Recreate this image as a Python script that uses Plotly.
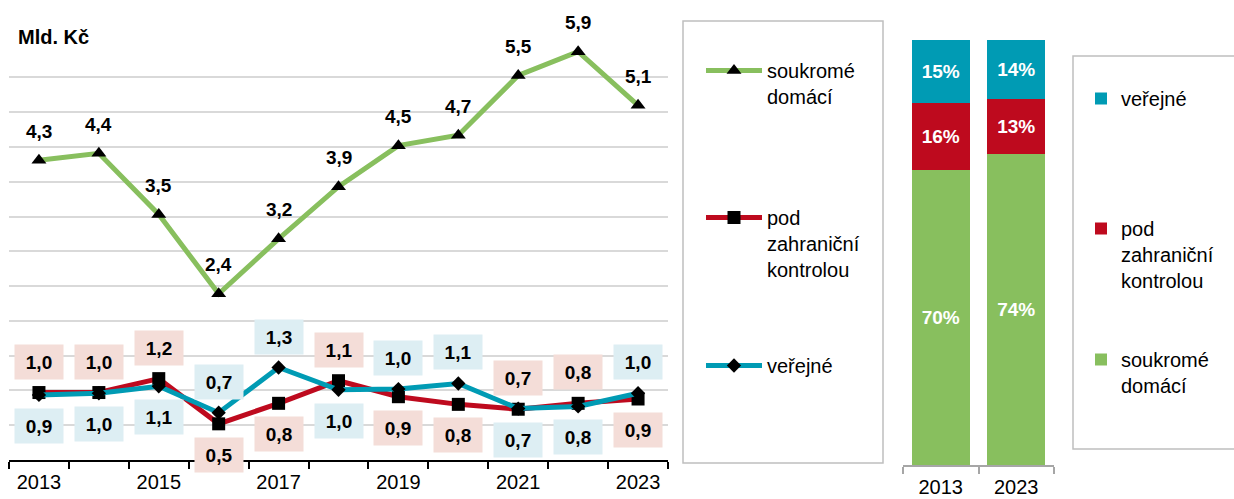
import plotly.graph_objects as go

# ---------------- data ----------------
years = [str(y) for y in range(2013, 2024)]
soukrome = [4.31, 4.41, 3.53, 2.39, 3.18, 3.93, 4.52, 4.67, 5.53, 5.87, 5.10]
zahranicni = [0.97, 0.97, 1.17, 0.52, 0.815, 1.14, 0.91, 0.80, 0.73, 0.815, 0.877]
verejne = [0.935, 0.96, 1.06, 0.68, 1.33, 1.01, 1.02, 1.10, 0.74, 0.77, 0.96]

share_years = ["2013", "2023"]
share_soukrome = [70, 74]
share_zahranicni = [16, 13]
share_verejne = [15, 14]

# label placement for the foreign-controlled series (True = above the point)
zahr_above = [True, True, True, False, False, True, False, False, True, True, False]

GREEN = "#88BF5E"
RED = "#BE0A1E"
TEAL = "#009BB4"
RED_BG = "#F4DDD8"
TEAL_BG = "#DDEEF3"
FONT = "Arial, Liberation Sans, sans-serif"
W, H = 1234, 499


def fmt(v):
    return f"{v:.1f}".replace(".", ",")


def px_x(p):
    return p / W


def px_y(p):
    return 1 - p / H


fig = go.Figure()

fig.add_trace(go.Scatter(
    x=years, y=soukrome, mode="lines+markers", name="soukromé<br>domácí",
    line=dict(color=GREEN, width=5),
    marker=dict(symbol="triangle-up", size=13, color="black"),
    legend="legend", hoverinfo="skip"))
fig.add_trace(go.Scatter(
    x=years, y=zahranicni, mode="lines+markers", name="pod<br>zahraniční<br>kontrolou",
    line=dict(color=RED, width=5),
    marker=dict(symbol="square", size=13, color="black"),
    legend="legend2", hoverinfo="skip"))
fig.add_trace(go.Scatter(
    x=years, y=verejne, mode="lines+markers", name="veřejné",
    line=dict(color=TEAL, width=5),
    marker=dict(symbol="diamond", size=11, color="black"),
    legend="legend3", hoverinfo="skip"))

bar_font = dict(color="white", size=19, family=FONT, weight="bold")
for vals, col, name, leg in [
    (share_soukrome, GREEN, "soukromé<br>domácí", "legend6"),
    (share_zahranicni, RED, "pod<br>zahraniční<br>kontrolou", "legend5"),
    (share_verejne, TEAL, "veřejné", "legend4"),
]:
    fig.add_trace(go.Bar(
        x=share_years, y=vals, name=name, marker=dict(color=col, line=dict(width=0)),
        text=[f"{v}%" for v in vals], textposition="inside", insidetextanchor="middle",
        textangle=0, textfont=bar_font, xaxis="x2", yaxis="y2", legend=leg,
        hoverinfo="skip"))

annotations = [dict(
    text="Mld. Kč", xref="paper", yref="paper", x=px_x(16), y=px_y(37),
    xanchor="left", yanchor="middle", showarrow=False,
    font=dict(size=20, family=FONT, color="black", weight="bold"))]

lab_font = dict(size=19, family=FONT, color="black", weight="bold")
for i, v in enumerate(soukrome):
    annotations.append(dict(text=fmt(v), x=i, y=v, xref="x", yref="y",
                            yshift=29, showarrow=False, font=lab_font))
for i, (vr, vb, up) in enumerate(zip(zahranicni, verejne, zahr_above)):
    annotations.append(dict(text=fmt(vr), x=i, y=vr, xref="x", yref="y",
                            yshift=31 if up else -31, showarrow=False,
                            font=lab_font, bgcolor=RED_BG, width=46, height=32))
    annotations.append(dict(text=fmt(vb), x=i, y=vb, xref="x", yref="y",
                            yshift=-31 if up else 31, showarrow=False,
                            font=lab_font, bgcolor=TEAL_BG, width=46, height=32))

shapes = [
    dict(type="rect", xref="paper", yref="paper",
         x0=px_x(683), x1=px_x(883), y0=px_y(463), y1=px_y(21),
         line=dict(color="#BFBFBF", width=1.5), layer="below"),
    dict(type="rect", xref="paper", yref="paper",
         x0=px_x(1073), x1=px_x(1245), y0=px_y(449), y1=px_y(56),
         line=dict(color="#BFBFBF", width=1.5), layer="below"),
]

leg_common = dict(font=dict(size=20, family=FONT, color="black"),
                  bgcolor="rgba(0,0,0,0)", borderwidth=0, xanchor="left",
                  yanchor="top", valign="top")

fig.update_layout(
    width=W, height=H, autosize=False,
    margin=dict(l=0, r=0, t=0, b=0),
    paper_bgcolor="white", plot_bgcolor="white",
    font=dict(family=FONT, color="black"),
    barmode="stack", barnorm="percent", bargap=0.23,
    showlegend=True,
    xaxis=dict(domain=[px_x(9), px_x(668)], type="category", tickson="boundaries",
               range=[-0.5, len(years) - 0.5], autorange=False,
               ticks="outside", ticklen=7, tickwidth=1.5, tickcolor="black",
               showline=True, linecolor="black", linewidth=2, ticklabelstep=2,
               tickangle=0, ticklabelstandoff=3,
               tickfont=dict(size=20, family=FONT, color="black"),
               showgrid=False, anchor="y", fixedrange=True),
    yaxis=dict(domain=[1 - 460 / H, 1 - 42.7 / H], range=[0, 6], dtick=0.5,
               showticklabels=False, gridcolor="#D9D9D9", gridwidth=1.5,
               zeroline=False, showline=False, ticks="", fixedrange=True),
    xaxis2=dict(domain=[px_x(903), px_x(1054)], type="category", tickson="boundaries",
                range=[-0.5, len(share_years) - 0.5], autorange=False,
                ticks="outside", ticklen=7, tickwidth=1.5, tickcolor="#A6A6A6",
                showline=True, linecolor="#A6A6A6", linewidth=2, tickangle=0,
                ticklabelstandoff=3,
                tickfont=dict(size=20, family=FONT, color="black"),
                showgrid=False, anchor="y2", fixedrange=True),
    yaxis2=dict(domain=[1 - 465 / H, 1 - 40 / H], range=[0, 100], visible=False,
                showgrid=False, zeroline=False, fixedrange=True),
    legend=dict(x=px_x(701), y=px_y(51), itemwidth=56, **leg_common),
    legend2=dict(x=px_x(701), y=px_y(198), itemwidth=56, **leg_common),
    legend3=dict(x=px_x(701), y=px_y(346), itemwidth=56, **leg_common),
    legend4=dict(x=px_x(1081), y=px_y(79), **leg_common),
    legend5=dict(x=px_x(1081), y=px_y(209), **leg_common),
    legend6=dict(x=px_x(1081), y=px_y(340), **leg_common),
    annotations=annotations,
    shapes=shapes,
)

fig.write_html("out.html", config={"displayModeBar": False},
               post_script="document.body.style.margin='0';"
                           "document.body.style.padding='0';")
